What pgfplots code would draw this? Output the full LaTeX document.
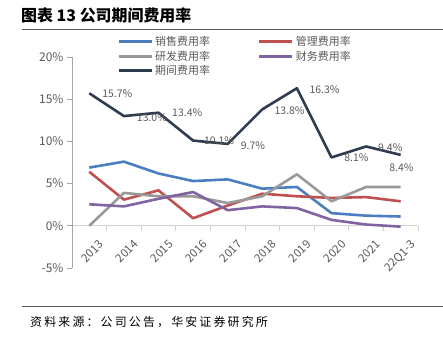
\documentclass[border=0pt]{standalone}
\usepackage{fontspec}
\setmainfont{Noto Sans CJK SC}
\usepackage{pgfplots}
\pgfplotsset{compat=1.18}
\definecolor{cSale}{HTML}{4A7EC0}
\definecolor{cMgmt}{HTML}{C0504D}
\definecolor{cRD}{HTML}{999999}
\definecolor{cFin}{HTML}{8064A2}
\definecolor{cPer}{HTML}{2F3B4F}
\definecolor{txtgray}{HTML}{595959}
\definecolor{axgray}{HTML}{A6A6A6}
\definecolor{lgray}{HTML}{D0D0D0}
\begin{document}
\begin{tikzpicture}
\path[use as bounding box] (0bp,0bp) rectangle (443bp,338bp);
\node[anchor=west, inner sep=0pt, font=\fontsize{16}{16}\selectfont\bfseries] at (21bp,323bp) {图表 13 公司期间费用率};
\draw[color=txtgray, line width=1bp] (22bp,308bp) -- (443bp,308bp);
\draw[color=txtgray, line width=1bp] (22bp,31bp) -- (443bp,31bp);
\node[anchor=west, inner sep=0pt, font=\fontsize{12}{12}\selectfont\addfontfeature{LetterSpace=18}] at (30bp,16bp) {资料来源：公司公告，华安证券研究所};
\begin{axis}[
  at={(72bp,70bp)}, anchor=south west,
  width=346bp, height=211bp, scale only axis,
  xmin=-0.5, xmax=9.5, ymin=-5, ymax=20,
  axis y line*=left, axis x line*=middle,
  x axis line style={draw=lgray, line width=0.8bp},
  y axis line style={draw=axgray, line width=0.8bp},
  xtick={0,...,9},
  xticklabels={2013,2014,2015,2016,2017,2018,2019,2020,2021,22Q1-3},
  minor xtick={-0.5,0.5,...,9.5},
  major x tick style={draw=none},
  minor x tick style={draw=lgray, line width=0.8bp},
  ytick={-5,0,5,10,15,20},
  yticklabel={\pgfmathprintnumber{\tick}\%},
  ytick style={draw=axgray, line width=0.8bp},
  tick align=outside,
  major tick length=5bp,
  minor tick length=5bp,
  /pgf/number format/assume math mode=true,
  tick label style={font=\fontsize{12}{12}\selectfont, text=txtgray},
  xticklabel style={rotate=45, anchor=north east, yshift=-9bp, xshift=4bp, font=\fontsize{11.5}{11.5}\selectfont},
  legend columns=2,
  legend style={at={(rel axis cs:0.13,1.11)}, anchor=north west, draw=none, fill=none,
    inner sep=0pt, font=\fontsize{11}{11}\selectfont, text=txtgray,
    /tikz/every even column/.append style={column sep=46bp},
    /tikz/every odd column/.append style={column sep=0bp}},
  legend cell align=left,
  legend image code/.code={\draw[#1, line width=3bp] (0bp,0bp) -- (33bp,0bp);},
  every axis plot/.append style={line width=2.6bp, line join=round},
]
\addplot[cSale] coordinates {(0,6.9) (1,7.6) (2,6.2) (3,5.3) (4,5.5) (5,4.4) (6,4.6) (7,1.5) (8,1.2) (9,1.1)};
\addlegendentry{销售费用率}
\addplot[cMgmt] coordinates {(0,6.4) (1,3.1) (2,4.2) (3,0.9) (4,2.4) (5,3.8) (6,3.5) (7,3.3) (8,3.4) (9,2.9)};
\addlegendentry{管理费用率}
\addplot[cRD] coordinates {(0,0.0) (1,3.9) (2,3.5) (3,3.5) (4,2.7) (5,3.5) (6,6.1) (7,2.9) (8,4.6) (9,4.6)};
\addlegendentry{研发费用率}
\addplot[cFin] coordinates {(0,2.55) (1,2.3) (2,3.2) (3,4.0) (4,1.85) (5,2.3) (6,2.1) (7,0.7) (8,0.15) (9,-0.1)};
\addlegendentry{财务费用率}
\addplot[cPer] coordinates {(0,15.7) (1,13.0) (2,13.4) (3,10.1) (4,9.7) (5,13.8) (6,16.3) (7,8.1) (8,9.4) (9,8.4)};
\addlegendentry{期间费用率}
\begin{scope}[every node/.style={font=\fontsize{10.5}{10.5}\selectfont, text=txtgray, inner sep=0pt}]
\node at (axis cs:0.81,15.6) {15.7\%};
\node at (axis cs:1.81,12.8) {13.0\%};
\node at (axis cs:2.83,13.4) {13.4\%};
\node at (axis cs:3.75,10.1) {10.1\%};
\node at (axis cs:4.73,9.5) {9.7\%};
\node at (axis cs:5.79,13.6) {13.8\%};
\node at (axis cs:6.8,16.1) {16.3\%};
\node at (axis cs:7.72,8.08) {8.1\%};
\node at (axis cs:8.7,9.3) {9.4\%};
\node at (axis cs:9.02,6.9) {8.4\%};
\end{scope}
\end{axis}
\end{tikzpicture}
\end{document}
